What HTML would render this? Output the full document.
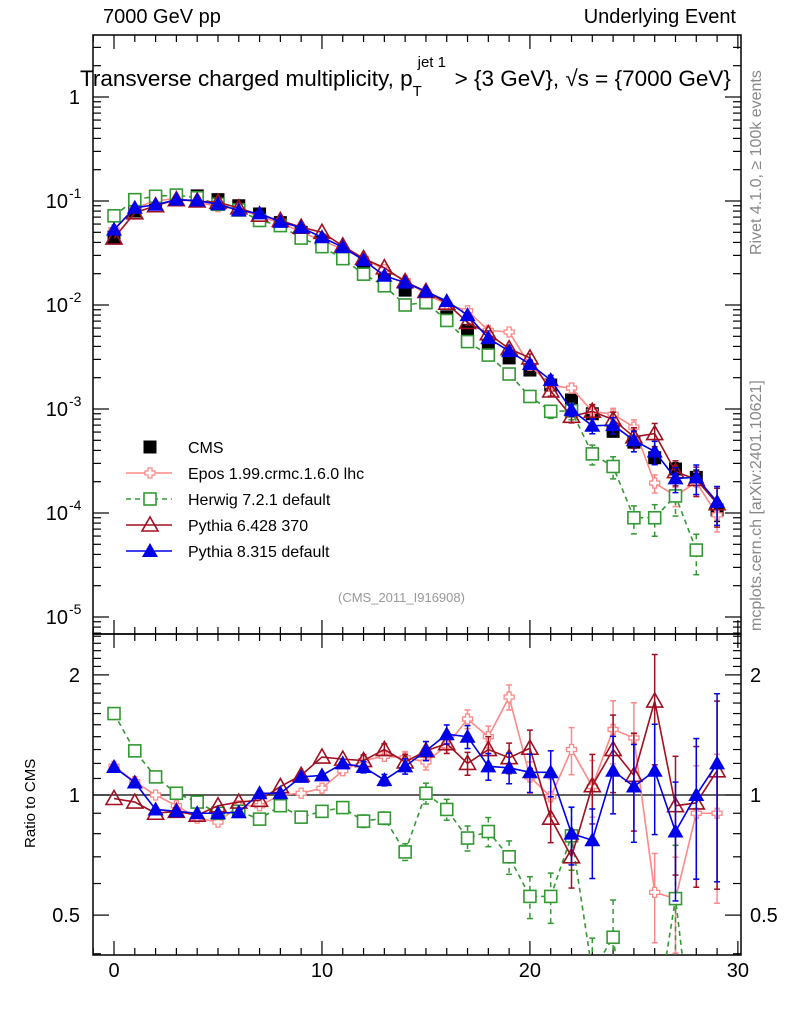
<!DOCTYPE html>
<html><head><meta charset="utf-8"><style>
html,body{margin:0;padding:0;background:#fff;width:786px;height:1024px;overflow:hidden;position:relative}
svg{display:block;position:absolute;left:0;top:0;font-family:"Liberation Sans",sans-serif}
</style></head><body>
<svg id="c" width="786" height="1024" viewBox="0 0 786 1024"></svg>
<script>
const bins=[0,1,2,3,4,5,6,7,8,9,10,11,12,13,14,15,16,17,18,19,20,21,22,23,24,25,26,27,28,29];
const cms=[.045,.080,.100,.113,.112,.103,.090,.075,.062,.050,.040,.030,.023,.0175,.0139,.0105,.0077,.0057,.0041,.0031,.00237,.0017,.00122,.0009,.00061,.00048,.00034,.000265,.00022,.000107];
const epos=[.053,.086,.100,.106,.098,.088,.085,.0705,.062,.0505,.0416,.0345,.0281,.0219,.0172,.0127,.0102,.0088,.0057,.0055,.00263,.00168,.00159,.00095,.00089,.00067,.000194,.000146,.000198,.000096];
const herwig=[.072,.103,.111,.114,.1075,.093,.082,.065,.058,.044,.0364,.0279,.0198,.0153,.0100,.0106,.0071,.00445,.0033,.00217,.00132,.00095,.00096,.00037,.00028,.00009,.00009,.000146,.000044,null];
const py6=[.044,.077,.090,.103,.100,.097,.086,.073,.065,.056,.050,.037,.028,.0228,.0168,.0135,.0104,.0068,.0053,.0038,.0031,.00149,.00085,.00095,.00079,.00054,.00058,.00025,.00021,.000123];
const py8=[.053,.086,.092,.103,.101,.093,.081,.076,.063,.0555,.0448,.036,.027,.0191,.0164,.0135,.0109,.0080,.0048,.0036,.0027,.0019,.00098,.00069,.0007,.0005,.00039,.000215,.00022,.000128];
const rEpos=[1.18,1.08,1.0,.94,.875,.855,.94,.94,1.0,1.01,1.04,1.15,1.22,1.25,1.24,1.21,1.33,1.55,1.40,1.76,1.11,.99,1.30,1.05,1.46,1.39,.57,.55,.90,.90];
const rHerwig=[1.60,1.29,1.11,1.01,.96,.90,.91,.87,.94,.88,.91,.93,.86,.875,.72,1.01,.92,.78,.81,.70,.557,.557,.79,.36,.44,.19,.26,.55,.2,null];
const rPy6=[.98,.96,.90,.91,.89,.94,.96,.97,1.05,1.12,1.245,1.23,1.22,1.30,1.21,1.29,1.345,1.20,1.30,1.24,1.31,.875,.70,1.055,1.30,1.12,1.72,.94,.955,1.15];
const rPy8=[1.175,1.075,.92,.91,.90,.90,.905,1.01,1.01,1.11,1.12,1.20,1.175,1.09,1.18,1.29,1.42,1.40,1.18,1.17,1.14,1.14,.80,.77,1.15,1.05,1.15,.81,1.0,1.20];
const relErr=[.01,.01,.01,.01,.01,.01,.01,.01,.01,.015,.02,.02,.03,.03,.04,.05,.05,.06,.07,.08,.1,.12,.15,.18,.2,.25,.28,.3,.35,.45];
const yTickExp=[0,-1,-2,-3,-4,-5];
const rTicks=[2,1,0.5];
const xTicks=[0,10,20,30];

const NS="http://www.w3.org/2000/svg";
const svg=document.getElementById('c');
const L=93,R=741,T=35,MB=634,RB=955;
const X=v=>L+(v+1.01)/(31.16)*(R-L);
const Y=v=>97-104*Math.log10(v);
const YR=v=>795-399*Math.log10(v);
function el(t,a,p){const e=document.createElementNS(NS,t);for(const k in a)e.setAttribute(k,a[k]);(p||svg).appendChild(e);return e;}
function txt(s,a,p){const e=el('text',a,p);e.textContent=s;return e;}

const defs=el('defs',{});
const c1=el('clipPath',{id:'cm'},defs);el('rect',{x:L,y:T,width:R-L,height:MB-T},c1);
const c2=el('clipPath',{id:'cr'},defs);el('rect',{x:L,y:MB,width:R-L,height:RB-MB},c2);

const f1=el('rect',{x:L,y:T,width:R-L,height:MB-T,fill:'none',stroke:'#000','stroke-width':1.5});

const f2=el('rect',{x:L,y:MB,width:R-L,height:RB-MB,fill:'none',stroke:'#000','stroke-width':1.5});


for(let e=1;e>=-6;e--){for(let m=1;m<10;m++){const v=m*Math.pow(10,e);const y=Y(v);if(y<T||y>MB)continue;const len=m==1?16:8;
el('line',{x1:L,x2:L+len,y1:y,y2:y,stroke:'#000','stroke-width':1.2});el('line',{x1:R,x2:R-len,y1:y,y2:y,stroke:'#000','stroke-width':1.2});}}
yTickExp.forEach(e=>{const y=Y(Math.pow(10,e));let t;
if(e==0){t=txt('1',{x:80,y:y+7,'font-size':20,'text-anchor':'end'});}
else{t=txt('10',{x:68,y:y+7,'font-size':20,'text-anchor':'end'});const s=txt(String(e),{x:69,y:y-3,'font-size':14});}
});
for(let v=0.4;v<=2.5;v=+(v+0.1).toFixed(1)){const y=YR(v);if(y<MB||y>RB)continue;const maj=rTicks.includes(v);const len=maj?16:8;
el('line',{x1:L,x2:L+len,y1:y,y2:y,stroke:'#000','stroke-width':1.2});el('line',{x1:R,x2:R-len,y1:y,y2:y,stroke:'#000','stroke-width':1.2});}
rTicks.forEach(v=>{const y=YR(v);
const a=txt(String(v),{x:80,y:y+7,'font-size':20,'text-anchor':'end'});
const b=txt(String(v),{x:750,y:y+7,'font-size':20});});
for(let i=-1;i<=30;i++){const x=X(i);const maj=xTicks.includes(i);const len=maj?14:7;
[[MB,-1],[T,1],[RB,-1],[MB,1]].forEach(([y0,d])=>el('line',{x1:x,x2:x,y1:y0,y2:y0+d*len,stroke:'#000','stroke-width':1.2}));}
xTicks.forEach(v=>{const t=txt(String(v),{x:X(v),y:977,'font-size':20,'text-anchor':'middle'});});
el('line',{x1:L,x2:R,y1:YR(1),y2:YR(1),stroke:'#000','stroke-width':1.3});

function marker(g,type,x,y,col){
 if(type=='sq')el('rect',{x:x-6.5,y:y-6.5,width:13,height:13,fill:'#000'},g);
 else if(type=='osq')el('rect',{x:x-6,y:y-6,width:12,height:12,fill:'#fff',stroke:col,'stroke-width':1.6},g);
 else if(type=='tri')el('polygon',{points:`${x},${y-8} ${x-8},${y+6} ${x+8},${y+6}`,fill:col},g);
 else if(type=='otri')el('polygon',{points:`${x},${y-8} ${x-8},${y+6} ${x+8},${y+6}`,fill:'none',stroke:col,'stroke-width':1.6},g);
 else if(type=='cross')el('path',{d:`M${x-2},${y-5}h4v3h3v4h-3v3h-4v-3h-3v-4h3z`,fill:'#fff',stroke:col,'stroke-width':1.3},g);
}
function series(name,vals,Yf,clip,col,dash,type,err){
 const g=el('g',{'clip-path':`url(#${clip})`});
 
 let d='';let pen=false;
 bins.forEach((b,i)=>{const v=vals[i];if(v==null||v<=0){pen=false;return;}d+=(pen?'L':'M')+X(b)+','+Yf(v);pen=true;});
 if(col!='#000')el('path',{d,fill:'none',stroke:col,'stroke-width':1.6,'stroke-dasharray':dash||'none'},g);
 bins.forEach((b,i)=>{const v=vals[i];if(v==null||v<=0)return;const e=relErr[i]*err;if(e>0.03){
  const y1=Yf(v*(1+e)),y2=Yf(Math.max(v*(1-e),1e-9));
  el('line',{x1:X(b),x2:X(b),y1,y2,stroke:col,'stroke-width':1.5,'stroke-dasharray':dash||'none'},g);
  el('line',{x1:X(b)-3,x2:X(b)+3,y1,y2:y1,stroke:col,'stroke-width':1.5},g);el('line',{x1:X(b)-3,x2:X(b)+3,y1:y2,y2,stroke:col,'stroke-width':1.5},g);}
  marker(g,type,X(b),Yf(v),col);});
}
const cE='#f88',cH='#393',cP6='#a01020',cP8='#0000e8';
series('cms-data',cms,Y,'cm','#000',null,'sq',0.5);
series('epos-line',epos,Y,'cm',cE,null,'cross',0.7);
series('herwig-line',herwig,Y,'cm',cH,'5,4','osq',1.2);
series('pythia6-line',py6,Y,'cm',cP6,null,'otri',0.9);
series('pythia8-line',py8,Y,'cm',cP8,null,'tri',0.9);
series('epos-ratio',rEpos,YR,'cr',cE,null,'cross',0.9);
series('herwig-ratio',rHerwig,YR,'cr',cH,'5,4','osq',1.2);
series('pythia6-ratio',rPy6,YR,'cr',cP6,null,'otri',1.1);
series('pythia8-ratio',rPy8,YR,'cr',cP8,null,'tri',1.1);

const leg=[['CMS','#000',null,'sq'],['Epos 1.99.crmc.1.6.0 lhc',cE,null,'cross'],['Herwig 7.2.1 default',cH,'5,4','osq'],['Pythia 6.428 370',cP6,null,'otri'],['Pythia 8.315 default',cP8,null,'tri']];
leg.forEach((l,i)=>{const y=447+i*26;const g=el('g',{});
 if(i>0)el('line',{x1:126,x2:172,y1:y,y2:y,stroke:l[1],'stroke-width':1.6,'stroke-dasharray':l[2]||'none'},g);
 marker(g,l[3],150,y,l[1]);txt(l[0],{x:188,y:y+6,'font-size':16},g);});
</script>
<div style="position:absolute;left:0;top:0;width:786px;height:1024px;overflow:hidden;pointer-events:none;font-family:'Liberation Sans',sans-serif">
<div style="position:absolute;left:103px;top:6px;font-size:20px">7000 GeV pp</div>
<div style="position:absolute;right:50px;top:6px;font-size:20px">Underlying Event</div>
<div style="position:absolute;left:80px;top:66px;font-size:22.5px;white-space:nowrap;line-height:26px">Transverse charged multiplicity, p<span style="position:relative;display:inline-block;width:42px;height:20px"><span style="position:absolute;left:0;top:13px;font-size:15px">T</span><span style="position:absolute;left:5px;top:-16px;font-size:15px;white-space:nowrap">jet 1</span></span>&gt; {3 GeV}, √s = {7000 GeV}</div>
<div style="position:absolute;left:338px;top:590px;font-size:13px;color:#999">(CMS_2011_I916908)</div>
<div style="position:absolute;left:748px;top:255px;font-size:16px;color:#888;transform:rotate(-90deg);transform-origin:0 0;white-space:nowrap">Rivet 4.1.0, ≥ 100k events</div>
<div style="position:absolute;left:748px;top:631px;font-size:16px;color:#888;transform:rotate(-90deg);transform-origin:0 0;white-space:nowrap">mcplots.cern.ch [arXiv:2401.10621]</div>
<div style="position:absolute;left:22px;top:848px;font-size:15px;transform:rotate(-90deg);transform-origin:0 0;white-space:nowrap">Ratio to CMS</div>
</div>
</body></html>
